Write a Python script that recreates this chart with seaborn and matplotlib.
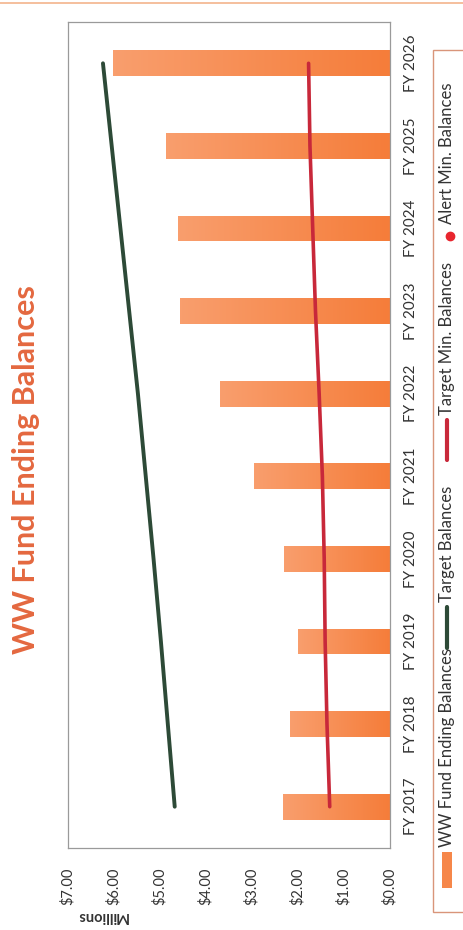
import numpy as np
import pandas as pd
import matplotlib
matplotlib.use("Agg")
import matplotlib.pyplot as plt
from matplotlib.patches import Rectangle
from matplotlib.lines import Line2D
from matplotlib.colors import LinearSegmentedColormap
import seaborn as sns

# ---- data (millions of dollars) ----
years = ["FY 2017", "FY 2018", "FY 2019", "FY 2020", "FY 2021",
         "FY 2022", "FY 2023", "FY 2024", "FY 2025", "FY 2026"]
ending_balances = [2.32, 2.17, 2.01, 2.30, 2.95, 3.70, 4.57, 4.60, 4.86, 6.02]
target_balances = [4.68, 4.83, 4.98, 5.14, 5.31, 5.48, 5.67, 5.86, 6.05, 6.24]
target_min_balances = [1.31, 1.37, 1.41, 1.43, 1.47, 1.54, 1.62, 1.68, 1.74, 1.77]
value_ticks = [0, 1, 2, 3, 4, 5, 6, 7]
value_tick_labels = ["$0.00", "$1.00", "$2.00", "$3.00", "$4.00", "$5.00", "$6.00", "$7.00"]

df = pd.DataFrame({
    "year": years,
    "ending": ending_balances,
    "target": target_balances,
    "target_min": target_min_balances,
})

sns.set_theme(style="white")
plt.rcParams["font.family"] = ["Lato", "DejaVu Sans"]

W, H = 463, 930
fig = plt.figure(figsize=(W / 100, H / 100), dpi=100)
fig.patch.set_facecolor("white")

def fx(px):
    return px / W

def fy(py):
    return 1 - py / H

ax = fig.add_axes([fx(68), fy(848), fx(390) - fx(68), fy(22) - fy(848)])

order = years[::-1]  # latest year at the top
bar_color = "#F6874A"
sns.barplot(data=df, x="ending", y="year", order=order, orient="h",
            width=0.31, color=bar_color, saturation=1, ax=ax, edgecolor="none")

# light-to-dark shading along each bar
grad = LinearSegmentedColormap.from_list("bar", ["#F99E6D", "#F57D3A"])
ax.set_xlim(7, 0)
ylim = ax.get_ylim()
for patch in list(ax.patches):
    x0, y0 = patch.get_x(), patch.get_y()
    w, h = patch.get_width(), patch.get_height()
    img = ax.imshow(np.linspace(0, 1, 64).reshape(1, -1), cmap=grad,
                    extent=(x0 + w, x0, y0 + h, y0), aspect="auto",
                    interpolation="bilinear", zorder=2)
    img.set_clip_path(patch)
    patch.set_facecolor("none")
ax.set_xlim(7, 0)
ax.set_ylim(ylim)

pos = {y: i for i, y in enumerate(order)}
df["pos"] = df["year"].map(pos)

sns.lineplot(data=df, x="target", y="pos", orient="y", sort=False,
             color="#2D4A37", linewidth=2.8, ax=ax, zorder=3,
             solid_capstyle="round")
sns.lineplot(data=df, x="target_min", y="pos", orient="y", sort=False,
             color="#C8283A", linewidth=2.6, ax=ax, zorder=3,
             solid_capstyle="round")
ax.set_ylim(ylim)

# axes styling
ax.set_xlabel("")
ax.set_ylabel("")
ax.set_xticks(value_ticks)
ax.set_xticklabels(value_tick_labels, rotation=90, fontsize=10.5, color="#333333")
ax.yaxis.tick_right()
ax.set_yticks(range(len(order)))
ax.set_yticklabels(order, rotation=90, va="center", fontsize=11, color="#333333")
ax.tick_params(axis="x", length=0, pad=14)
ax.tick_params(axis="y", length=0, pad=10)
for s in ax.spines.values():
    s.set_color("#9A9A9A")
    s.set_linewidth(0.9)
ax.grid(False)

# title and unit label
fig.text(fx(26), fy(470), "WW Fund Ending Balances", rotation=90,
         ha="center", va="center", fontsize=22, fontweight="bold", color="#E4683F")
fig.text(fx(102), fy(916), "Millions", rotation=180, ha="center", va="center",
         fontsize=10.5, fontweight="bold", color="#333333")

# top border of the chart area
fig.add_artist(Line2D([0, 1], [fy(3), fy(3)], color="#F4B48C", linewidth=1.2))

# legend (rotated, drawn on the figure)
fig.add_artist(Rectangle((fx(433), fy(912)), fx(480) - fx(433), fy(50) - fy(912),
                         facecolor="white", edgecolor="#D9957A", linewidth=1.0))
leg_x = 447
leg_fs = 12
fig.add_artist(Rectangle((fx(442), fy(888)), fx(452) - fx(442), fy(852) - fy(888),
                         facecolor="#F6874A", edgecolor="none"))
fig.text(fx(leg_x), fy(847), "WW Fund Ending Balances", rotation=90,
         ha="center", va="bottom", fontsize=leg_fs, color="#333333")
fig.add_artist(Line2D([fx(leg_x), fx(leg_x)], [fy(648), fy(607)],
                      color="#2D4A37", linewidth=3))
fig.text(fx(leg_x), fy(602), "Target Balances", rotation=90,
         ha="center", va="bottom", fontsize=leg_fs, color="#333333")
fig.add_artist(Line2D([fx(leg_x), fx(leg_x)], [fy(460), fy(420)],
                      color="#C8283A", linewidth=3))
fig.text(fx(leg_x), fy(415), "Target Min. Balances", rotation=90,
         ha="center", va="bottom", fontsize=leg_fs, color="#333333")
fig.add_artist(Line2D([fx(450)], [fy(236)], marker="o", markersize=6,
                      color="#E8252E", linestyle="none"))
fig.text(fx(leg_x), fy(224), "Alert Min. Balances", rotation=90,
         ha="center", va="bottom", fontsize=leg_fs, color="#333333")

fig.savefig("out.png", dpi=100)
